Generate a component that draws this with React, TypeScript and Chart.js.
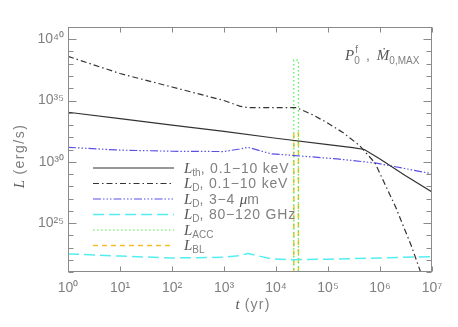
import { useEffect, useRef } from "react";
import { Chart, registerables } from "chart.js";

Chart.register(...registerables);

// ---- Data (t in yr, L in erg/s) ----
const tThermal = [1, 10, 100, 1e3, 1e4, 1e5, 3e5, 5e5, 1e6, 3e6, 1e7];
const lThermal = [1.1e34, 3.3e33, 9.8e32, 3.0e32, 8.3e31, 2.5e31, 1.4e31, 1.0e31, 1.7e30, 8e28, 3.4e27];

const tDiskX = [1, 10, 100, 1e3, 2e3, 3e3, 2.5e4, 5e4, 1e5, 2e5, 4e5, 8e5, 2e6, 4e6, 6.3e6];
const lDiskX = [4e38, 1.6e37, 1.26e36, 1e35, 3.5e34, 2.6e34, 2.6e34, 7e33, 1.4e33, 2.2e32, 2.2e31, 8e29, 2e26, 1.4e23, 6e20];

const tDiskIR = [1, 10, 100, 1e3, 2e3, 2.9e3, 8e3, 2.3e4, 1.5e5, 8e5, 3e6, 1e7];
const lDiskIR = [1.5e31, 8.9e30, 7.2e30, 6.8e30, 1.1e31, 1.5e31, 4.5e30, 3.2e30, 1.7e30, 8e29, 2.8e29, 1.05e29];

const tDiskRadio = [1, 10, 100, 1e3, 2e3, 2.9e3, 8e3, 2e4, 1e5, 1e6, 1e7];
const lDiskRadio = [3e22, 2e22, 1.4e22, 1.6e22, 2.2e22, 3.2e22, 1.2e22, 1.02e22, 1.1e22, 1.4e22, 1.8e22];

const tAcc = [2.2e4, 2.2e4, 2.7e4, 2.7e4];
const lAcc = [1e15, 2e38, 2e38, 1e15];

const tBL = [2.2e4, 2.2e4, 2.7e4, 2.7e4];
const lBL = [1e15, 2.2e32, 2.2e32, 1e15];

const xTickValues = [1, 1e1, 1e2, 1e3, 1e4, 1e5, 1e6, 1e7];
const yDecadeExponents = [21, 22, 23, 24, 25, 26, 27, 28, 29, 30, 31, 32, 33, 34, 35, 36, 37, 38, 39, 40, 41];
const yLabelExponents = [25, 30, 35, 40];

const legendSubs = ["th", "D", "D", "D", "ACC", "BL"];
const legendTexts = [", 0.1\u221210 keV", ", 0.1\u221210 keV", ", 3\u22124 ", ", 80\u2212120 GHz", "", ""];

const SUP: Record<string, string> = {
  "0": "\u2070", "1": "\u00b9", "2": "\u00b2", "3": "\u00b3", "4": "\u2074",
  "5": "\u2075", "6": "\u2076", "7": "\u2077", "8": "\u2078", "9": "\u2079",
};
const sup = (n: number) => String(n).split("").map((c) => SUP[c] || c).join("");

const pts = (xs: number[], ys: number[]) => xs.map((x, i) => ({ x, y: ys[i] }));

const SERIF_I = "italic 15px 'Liberation Serif', 'DejaVu Serif', serif";
const SANS = "14px 'Liberation Sans', Arial, sans-serif";
const SUBF = "10px 'Liberation Sans', Arial, sans-serif";
const TXT = "#808080";
const DARK = "#555555";

type Part = { text: string; font: string; color: string; dy?: number; ls?: string };

function drawParts(ctx: any, x: number, y: number, parts: Part[], draw = true) {
  let cx = x;
  for (const p of parts) {
    ctx.font = p.font;
    ctx.letterSpacing = p.ls || "0px";
    ctx.fillStyle = p.color;
    if (draw) ctx.fillText(p.text, cx, y + (p.dy || 0));
    cx += ctx.measureText(p.text).width;
  }
  ctx.letterSpacing = "0px";
  return cx - x;
}

const decorPlugin = {
  id: "decor",
  afterDraw(chart: any) {
    const { ctx, chartArea: a, scales } = chart;
    const xs = scales.x;
    const ys = scales.y;
    ctx.save();
    // frame
    ctx.strokeStyle = "#8a8a8a";
    ctx.lineWidth = 1;
    ctx.setLineDash([]);
    const L = Math.round(a.left) + 0.5;
    const R = Math.round(a.right) - 0.5;
    const T = Math.round(a.top) + 0.5;
    const B = Math.round(a.bottom) - 0.5;
    ctx.strokeRect(L, T, R - L, B - T);
    // x ticks (bottom & top)
    ctx.beginPath();
    for (const v of xTickValues) {
      const px = Math.round(xs.getPixelForValue(v)) + 0.5;
      ctx.moveTo(px, B);
      ctx.lineTo(px, B - 5);
      ctx.moveTo(px, T);
      ctx.lineTo(px, T + 5);
    }
    for (const e of yDecadeExponents) {
      const py = Math.round(ys.getPixelForValue(Math.pow(10, e))) + 0.5;
      const len = e % 5 === 0 ? 8 : 5;
      ctx.moveTo(L, py);
      ctx.lineTo(L + len, py);
      ctx.moveTo(R, py);
      ctx.lineTo(R - len, py);
    }
    ctx.stroke();

    // legend
    ctx.textBaseline = "alphabetic";
    chart.data.datasets.forEach((ds: any, i: number) => {
      const y = 168 + i * 15.5;
      ctx.strokeStyle = ds.borderColor;
      ctx.lineWidth = ds.borderWidth;
      ctx.setLineDash(ds.borderDash || []);
      ctx.beginPath();
      ctx.moveTo(93, y);
      ctx.lineTo(174, y);
      ctx.stroke();
      ctx.setLineDash([]);
      const parts: Part[] = [
        { text: "L", font: SERIF_I, color: DARK },
        { text: legendSubs[i], font: SUBF, color: TXT, dy: 3 },
      ];
      if (legendTexts[i]) parts.push({ text: legendTexts[i], font: SANS, color: TXT, ls: "0.8px" });
      if (i === 2) {
        parts.push({ text: "\u03bc", font: SERIF_I, color: DARK });
        parts.push({ text: "m", font: SANS, color: TXT });
      }
      drawParts(ctx, 184, y + 4.5, parts);
    });

    // annotation top-right
    let ax = 345;
    const ay = 60;
    ax += drawParts(ctx, ax, ay, [{ text: "P", font: SERIF_I, color: DARK }]);
    ctx.font = SUBF;
    ctx.fillStyle = TXT;
    ctx.fillText("f", ax + 1, ay - 7);
    ctx.fillText("0", ax, ay + 4);
    ax += 8;
    ax += drawParts(ctx, ax, ay, [{ text: " , ", font: SANS, color: TXT }]);
    ax += 3;
    ax += drawParts(ctx, ax, ay, [
      { text: "\u1e40", font: SERIF_I, color: DARK },
      { text: "0,MAX", font: SUBF, color: TXT, dy: 4 },
    ]);

    // axis titles
    const xParts: Part[] = [
      { text: "t", font: SERIF_I, color: DARK },
      { text: " (yr)", font: SANS, color: TXT, ls: "1.2px" },
    ];
    const xw = drawParts(ctx, 0, 0, xParts, false);
    drawParts(ctx, (a.left + a.right) / 2 - xw / 2 + 3, 309, xParts);

    const yParts: Part[] = [
      { text: "L", font: SERIF_I, color: DARK },
      { text: " (erg/s)", font: SANS, color: TXT, ls: "1.5px" },
    ];
    const yw = drawParts(ctx, 0, 0, yParts, false);
    ctx.translate(24, 156);
    ctx.rotate(-Math.PI / 2);
    drawParts(ctx, -yw / 2, 0, yParts);
    ctx.restore();
  },
};

export default function App() {
  const ref = useRef<HTMLCanvasElement | null>(null);

  useEffect(() => {
    if (!ref.current) return;
    const chart = new Chart(ref.current, {
      type: "line",
      data: {
        datasets: [
          { label: "L_th, 0.1\u201310 keV", data: pts(tThermal, lThermal), borderColor: "#333333", borderWidth: 1.2, borderDash: [] },
          { label: "L_D, 0.1\u201310 keV", data: pts(tDiskX, lDiskX), borderColor: "#333333", borderWidth: 1.2, borderDash: [6, 3, 1.5, 3] },
          { label: "L_D, 3\u20134 \u03bcm", data: pts(tDiskIR, lDiskIR), borderColor: "#5a50e6", borderWidth: 1.2, borderDash: [8, 2, 1.5, 2, 1.5, 2, 1.5, 2] },
          { label: "L_D, 80\u2013120 GHz", data: pts(tDiskRadio, lDiskRadio), borderColor: "#55eef0", borderWidth: 1.5, borderDash: [11, 5] },
          { label: "L_ACC", data: pts(tAcc, lAcc), borderColor: "#4cf04c", borderWidth: 1.2, borderDash: [1.5, 2.5] },
          { label: "L_BL", data: pts(tBL, lBL), borderColor: "#f2bf2a", borderWidth: 1.5, borderDash: [5, 4] },
        ] as any,
      },
      options: {
        animation: false,
        responsive: false,
        devicePixelRatio: 1,
        layout: { padding: { top: 27, right: 26, left: 0, bottom: 0 } },
        elements: { point: { radius: 0 }, line: { tension: 0, fill: false } },
        plugins: { legend: { display: false }, tooltip: { enabled: false }, title: { display: false } },
        scales: {
          x: {
            type: "logarithmic",
            min: 1,
            max: 1e7,
            afterBuildTicks: (s: any) => {
              s.ticks = xTickValues.map((v) => ({ value: v }));
            },
            afterFit: (s: any) => {
              s.height = 55;
            },
            grid: { display: false, drawTicks: false },
            border: { display: false },
            ticks: {
              autoSkip: false,
              maxRotation: 0,
              padding: 8,
              color: TXT,
              font: { family: "'Liberation Sans', Arial, sans-serif", size: 14 },
              callback: (v: any) => "10" + sup(Math.round(Math.log10(Number(v)))),
            },
          },
          y: {
            type: "logarithmic",
            min: 1e21,
            max: 1e41,
            afterBuildTicks: (s: any) => {
              s.ticks = yDecadeExponents.map((e) => ({ value: Math.pow(10, e) }));
            },
            afterFit: (s: any) => {
              s.width = 68;
            },
            grid: { display: false, drawTicks: false },
            border: { display: false },
            ticks: {
              autoSkip: false,
              padding: 4,
              color: TXT,
              font: { family: "'Liberation Sans', Arial, sans-serif", size: 14 },
              callback: (v: any) => {
                const e = Math.round(Math.log10(Number(v)));
                return yLabelExponents.includes(e) ? "10" + sup(e) : "";
              },
            },
          },
        },
      },
      plugins: [decorPlugin],
    } as any);
    return () => chart.destroy();
  }, []);

  return (
    <div style={{ position: "absolute", left: 0, top: 0, width: 458, height: 327, background: "#fff" }}>
      <canvas ref={ref} width={458} height={327} style={{ width: 458, height: 327, display: "block" }} />
    </div>
  );
}
